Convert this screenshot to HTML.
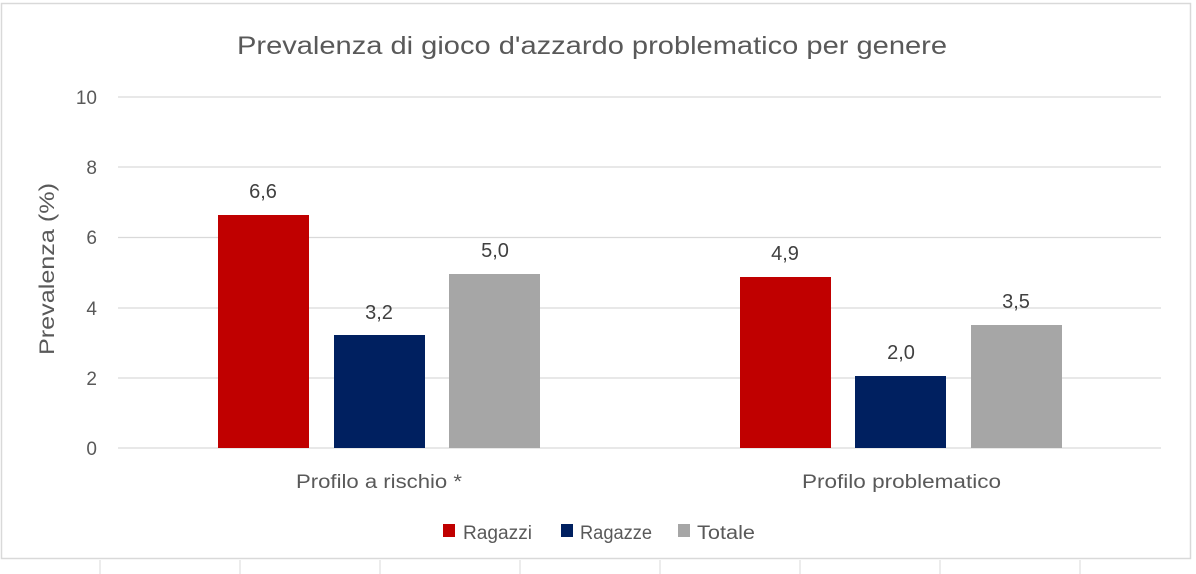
<!DOCTYPE html>
<html><head><meta charset="utf-8"><style>
body{margin:0;background:#fff;}
svg{display:block;font-family:"Liberation Sans",Calibri,sans-serif;}
</style></head><body>
<svg width="1196" height="574" viewBox="0 0 1196 574">
<rect x="0" y="0" width="1196" height="574" fill="#fff"/>
<rect x="1.5" y="3.5" width="1189" height="555" fill="#fff" stroke="#d9d9d9" stroke-width="1.5"/>
<g stroke="#d9d9d9" stroke-width="1">
<line x1="100" y1="560" x2="100" y2="574"/><line x1="240" y1="560" x2="240" y2="574"/><line x1="380" y1="560" x2="380" y2="574"/>
<line x1="520" y1="560" x2="520" y2="574"/><line x1="660" y1="560" x2="660" y2="574"/><line x1="800" y1="560" x2="800" y2="574"/><line x1="940" y1="560" x2="940" y2="574"/><line x1="1080" y1="560" x2="1080" y2="574"/>
</g>
<text x="237" y="54" font-size="25" fill="#595959" textLength="710" lengthAdjust="spacingAndGlyphs">Prevalenza di gioco d'azzardo problematico per genere</text>
<g stroke="#d9d9d9" stroke-width="1.3">
<line x1="118" y1="97" x2="1161" y2="97"/><line x1="118" y1="167" x2="1161" y2="167"/><line x1="118" y1="237.5" x2="1161" y2="237.5"/><line x1="118" y1="308" x2="1161" y2="308"/><line x1="118" y1="378" x2="1161" y2="378"/><line x1="118" y1="448" x2="1161" y2="448"/>
</g>
<g font-size="19" fill="#595959" text-anchor="end">
<text x="97" y="104">10</text><text x="97" y="174">8</text><text x="97" y="244">6</text><text x="97" y="315">4</text><text x="97" y="385">2</text><text x="97" y="455">0</text>
</g>
<text transform="translate(54,355) rotate(-90)" font-size="21" fill="#595959" textLength="172" lengthAdjust="spacingAndGlyphs">Prevalenza (%)</text>
<rect x="218" y="215" width="91" height="233" fill="#c00000"/>
<rect x="334" y="335" width="91" height="113" fill="#002060"/>
<rect x="449" y="274" width="91" height="174" fill="#a6a6a6"/>
<rect x="740" y="277" width="91" height="171" fill="#c00000"/>
<rect x="855" y="376" width="91" height="72" fill="#002060"/>
<rect x="971" y="325" width="91" height="123" fill="#a6a6a6"/>
<g font-size="20" fill="#404040" text-anchor="middle">
<text x="263" y="198">6,6</text><text x="379" y="319">3,2</text><text x="495" y="257">5,0</text>
<text x="785" y="260">4,9</text><text x="901" y="359">2,0</text><text x="1016" y="308">3,5</text>
</g>
<g font-size="19" fill="#595959">
<text x="296" y="488" textLength="166" lengthAdjust="spacingAndGlyphs">Profilo a rischio *</text><text x="802" y="488" textLength="199" lengthAdjust="spacingAndGlyphs">Profilo problematico</text>
</g>
<g font-size="19" fill="#595959">
<rect x="443" y="524" width="12" height="13" fill="#c00000"/><text x="463" y="539" textLength="69" lengthAdjust="spacingAndGlyphs">Ragazzi</text>
<rect x="561" y="524" width="12" height="13" fill="#002060"/><text x="580" y="539" textLength="72" lengthAdjust="spacingAndGlyphs">Ragazze</text>
<rect x="678" y="524" width="12" height="13" fill="#a6a6a6"/><text x="697" y="539" textLength="58" lengthAdjust="spacingAndGlyphs">Totale</text>
</g>
</svg>
</body></html>
